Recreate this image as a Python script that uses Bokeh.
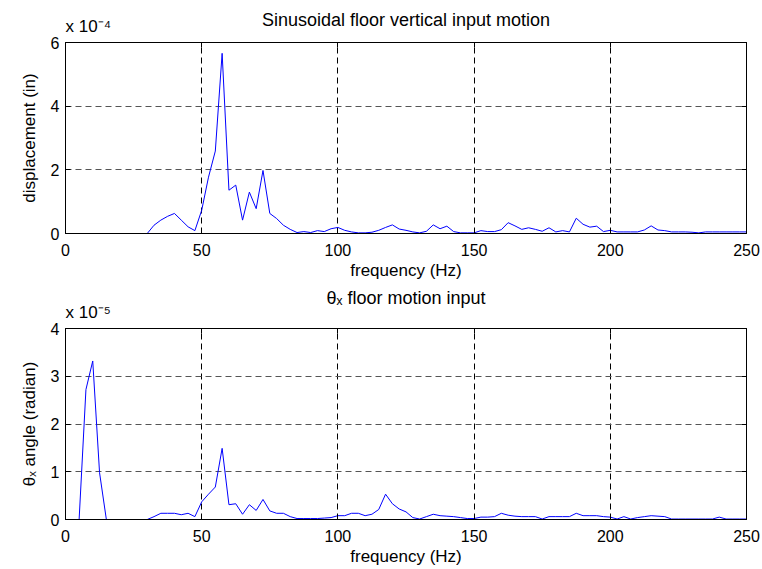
import numpy as np
from bokeh.plotting import figure
from bokeh.layouts import column
from bokeh.models import Range1d, LinearAxis, FixedTicker, CustomJSTickFormatter
from bokeh.embed import file_html
from bokeh.resources import INLINE

FONT = "Liberation Sans"

# frequency grid of the spectra (Hz), uniform 2.5 Hz spacing
freq_hz = np.arange(0, 250.1, 2.5)

# top panel: displacement, in units of 1e-4 in
disp_e4 = [
    0, 0, 0, 0, 0, 0, 0, 0, 0, 0, 0, 0, 0,
    0.26, 0.42, 0.54, 0.63, 0.42, 0.21, 0.09, 0.73, 1.77, 2.59, 5.66, 1.36,
    1.52, 0.42, 1.30, 0.78, 1.98, 0.63, 0.47, 0.26, 0.13, 0.03, 0.06, 0.03,
    0.09, 0.06, 0.15, 0.19, 0.10, 0.05, 0.02, 0.02, 0.04, 0.10, 0.19, 0.27,
    0.14, 0.10, 0.05, 0.02, 0.07, 0.27, 0.15, 0.23, 0.06, 0.02, 0.02, 0.02,
    0.09, 0.06, 0.06, 0.12, 0.34, 0.24, 0.13, 0.18, 0.13, 0.07, 0.18, 0.05,
    0.09, 0.05, 0.48, 0.29, 0.20, 0.23, 0.06, 0.10, 0.05, 0.05, 0.05, 0.05,
    0.11, 0.24, 0.11, 0.09, 0.05, 0.05, 0.05, 0.04, 0.02, 0.05,
    0.05, 0.05, 0.05, 0.05, 0.05, 0.05,
]

# bottom panel: theta_x angle, in units of 1e-5 rad
theta_e5 = [
    0, 0, 0, 2.72, 3.32, 0.98, 0,
    0, 0, 0, 0, 0, 0,
    0.06, 0.13, 0.13, 0.13, 0.10, 0.13, 0.06, 0.37, 0.53, 0.68, 1.49, 0.31,
    0.33, 0.11, 0.31, 0.19, 0.42, 0.18, 0.13, 0.13, 0.06, 0.02, 0.02, 0.02,
    0.02, 0.03, 0.04, 0.08, 0.08, 0.13, 0.13, 0.08, 0.11, 0.21, 0.53, 0.33,
    0.22, 0.16, 0.04, 0.01, 0.06, 0.11, 0.08, 0.07, 0.06, 0.04, 0.02, 0.02,
    0.05, 0.05, 0.06, 0.13, 0.09, 0.07, 0.06, 0.06, 0.06, 0.01, 0.06, 0.06,
    0.06, 0.06, 0.13, 0.08, 0.08, 0.08, 0.06, 0.05, 0.01, 0.06, 0.01, 0.04,
    0.06, 0.08, 0.07, 0.06, 0.01,
    0.01, 0.01, 0.01, 0.01, 0.01, 0.01,
    0.05,
    0.01, 0.01, 0.01, 0.01,
]

x_ticks = [0, 50, 100, 150, 200, 250]
disp_ticks_e4 = [0, 2, 4, 6]
theta_ticks_e5 = [0, 1, 2, 3, 4]

TITLE_SIZE = "18px"
LABEL_SIZE = "17px"
TICK_SIZE = "16px"


def make_panel(title, values, scale, ticks, ylabel, exp_text, height,
               top, bottom, title_standoff):
    y = np.array(values) * scale
    yt = [t * scale for t in ticks]
    p = figure(width=762, height=height, output_backend="svg",
               toolbar_location=None, title_location=None,
               x_range=Range1d(0, 250), y_range=Range1d(0, yt[-1]),
               min_border_left=65, min_border_right=16,
               min_border_top=top, min_border_bottom=bottom)
    p.background_fill_color = "white"
    p.border_fill_color = "white"
    p.outline_line_color = "black"
    p.outline_line_alpha = 1.0

    p.line(freq_hz, y, line_color="#0000FF", line_width=1)

    fmt = CustomJSTickFormatter(code="return String(Math.round(tick * %g));" % (1.0 / scale))
    for ax in (p.xaxis[0], p.yaxis[0]):
        ax.major_tick_in = 5
        ax.major_tick_out = 0
        ax.minor_tick_line_color = None
        ax.axis_line_color = "black"
        ax.major_tick_line_color = "black"
        ax.major_label_text_font = FONT
        ax.major_label_text_font_size = TICK_SIZE
        ax.major_label_text_color = "black"
        ax.axis_label_text_font = FONT
        ax.axis_label_text_font_size = LABEL_SIZE
        ax.axis_label_text_font_style = "normal"
        ax.axis_label_text_color = "black"
    p.xaxis.ticker = FixedTicker(ticks=x_ticks)
    p.xaxis.axis_label = "frequency (Hz)"
    p.xaxis.major_label_standoff = 10
    p.xaxis.axis_label_standoff = 2
    p.yaxis.ticker = FixedTicker(ticks=yt)
    p.yaxis.formatter = fmt
    p.yaxis.axis_label = ylabel
    p.yaxis.major_label_standoff = 6
    p.yaxis.axis_label_standoff = 9

    blank = CustomJSTickFormatter(code="return '';")
    ra = LinearAxis(ticker=FixedTicker(ticks=yt), formatter=blank,
                    major_tick_in=5, major_tick_out=0, minor_tick_line_color=None,
                    major_label_standoff=0, major_label_text_font_size="1px",
                    axis_line_color="black")
    p.add_layout(ra, "right")

    # top axis: inward ticks, the "x 10^n" multiplier at x=0 and the title
    exp_fmt = CustomJSTickFormatter(
        code='return tick == 0 ? "%s" : "";' % exp_text)
    ta = LinearAxis(ticker=FixedTicker(ticks=x_ticks), formatter=exp_fmt,
                    major_tick_in=5, major_tick_out=0, minor_tick_line_color=None,
                    major_label_standoff=16,
                    major_label_orientation=1e-9,
                    major_label_text_font=FONT, major_label_text_font_size=LABEL_SIZE,
                    major_label_text_color="black",
                    axis_line_color="black",
                    axis_label=title, axis_label_standoff=title_standoff,
                    axis_label_text_font=FONT, axis_label_text_font_size=TITLE_SIZE,
                    axis_label_text_font_style="normal", axis_label_text_color="black")
    p.add_layout(ta, "above")

    p.xgrid.grid_line_color = "black"
    p.xgrid.grid_line_dash = "6 4"
    p.xgrid.grid_line_width = 1
    p.ygrid.grid_line_color = "#555555"
    p.ygrid.grid_line_dash = "6 4"
    p.ygrid.grid_line_width = 1
    return p


p1 = make_panel("Sinusoidal floor vertical input motion", disp_e4, 1e-4,
                disp_ticks_e4, "displacement (in)", "x 10\u207b\u2074", 284, 42, 51,
                -25)
p2 = make_panel("\u03b8\u2093 floor motion input", theta_e5, 1e-5,
                theta_ticks_e5, "\u03b8\u2093 angle (radian)", "x 10\u207b\u2075", 285, 43, 50,
                -17)

layout = column(p1, p2, spacing=0)
open("out.html", "w").write(file_html(layout, INLINE))
